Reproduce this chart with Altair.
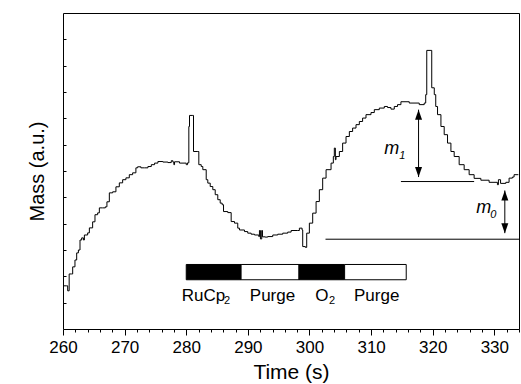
import altair as alt
import pandas as pd

# ---- trace (time in s, mass in arbitrary units) ----
time_s = [260.00, 260.60, 260.76, 261.00, 261.41, 261.57, 261.94, 262.22, 262.50, 262.76,
          263.03, 263.31, 263.47, 264.00, 264.28, 264.81, 265.19, 265.62, 265.90, 266.43,
          266.87, 267.13, 267.52, 268.06, 268.59, 269.14, 269.68, 270.21, 270.76, 271.30,
          271.83, 272.11, 272.64, 273.24, 273.78, 274.33, 274.86, 275.40, 276.21, 277.02,
          277.57, 277.83, 277.99, 278.10, 278.91, 280.00, 280.21, 280.42, 280.53, 281.07,
          281.18, 281.88, 282.04, 282.43, 282.69, 283.24, 283.50, 283.89, 284.31, 284.70,
          285.12, 285.51, 285.83, 286.05, 286.74, 287.29, 287.83, 288.36, 288.64, 289.45,
          289.98, 290.53, 291.07, 291.77, 291.88, 292.04, 292.25, 292.37, 292.80, 293.22,
          294.04, 294.85, 295.66, 296.47, 297.02, 298.09, 298.36, 298.80, 298.90, 299.33,
          299.55, 299.98, 300.52, 301.07, 301.60, 302.14, 302.69, 303.50, 303.87, 304.03,
          304.20, 304.31, 304.85, 305.38, 305.93, 306.47, 307.00, 307.55, 308.09, 308.62,
          309.17, 309.98, 310.52, 311.33, 312.14, 312.67, 313.22, 313.76, 314.29, 314.84,
          316.19, 317.81, 318.62, 318.86, 319.03, 319.71, 319.84, 320.25, 320.49, 320.78,
          321.33, 321.86, 322.40, 322.95, 323.48, 324.29, 325.10, 325.91, 326.72, 327.81,
          329.15, 330.50, 330.66, 330.93, 331.01, 331.86, 332.39, 332.93, 333.20, 333.90]
mass = [1.64, 1.64, 1.45, 2.09, 2.09, 2.36, 2.62, 2.89, 3.00, 3.38,
        3.46, 3.38, 3.57, 3.65, 3.84, 4.07, 4.34, 4.41, 4.60, 4.60,
        4.64, 4.83, 5.17, 5.21, 5.40, 5.55, 5.67, 5.74, 5.86, 5.93,
        6.12, 6.16, 6.12, 6.12, 6.17, 6.24, 6.30, 6.36, 6.34, 6.32,
        6.39, 6.34, 6.24, 6.35, 6.30, 6.24, 6.31, 7.69, 8.11, 8.11,
        6.74, 6.74, 6.24, 6.17, 6.05, 5.67, 5.54, 5.41, 5.29, 5.10,
        4.91, 4.78, 4.72, 4.46, 4.42, 4.08, 4.02, 3.83, 3.76, 3.70,
        3.64, 3.60, 3.57, 3.51, 3.74, 3.42, 3.74, 3.50, 3.49, 3.51,
        3.57, 3.60, 3.64, 3.68, 3.74, 3.74, 3.83, 3.76, 3.13, 3.10,
        3.64, 4.02, 4.40, 4.84, 5.29, 5.73, 6.05, 6.30, 6.55, 6.87,
        6.43, 6.55, 6.74, 7.06, 7.31, 7.50, 7.63, 7.76, 7.88, 8.01,
        8.14, 8.22, 8.33, 8.39, 8.45, 8.41, 8.35, 8.45, 8.52, 8.63,
        8.58, 8.52, 8.58, 8.90, 10.58, 10.58, 9.16, 8.90, 8.45, 8.14,
        7.69, 7.38, 7.06, 6.74, 6.55, 6.24, 6.05, 5.86, 5.72, 5.65,
        5.57, 5.48, 5.67, 5.67, 5.53, 5.57, 5.73, 5.77, 5.86, 5.86]

# ---- process-step bar ----
step_start = [280.0, 288.9, 298.3, 305.7]
step_end = [288.9, 298.3, 305.7, 315.7]
step_kind = ["dose", "purge", "dose", "purge"]
bar_low = [1.87] * 4
bar_high = [2.45] * 4
step_labels = ["RuCp", "Purge", "O", "Purge"]
step_label_t = [282.80, 294.0, 302.01, 310.9]
step_label_m = [1.27] * 4
step_sub = ["2", "2"]
step_sub_t = [286.13, 303.15]
step_sub_m = [1.08, 1.08]

# ---- annotations ----
ref_lines_t0 = [314.84, 302.6]
ref_lines_t1 = [326.72, 334.0]
ref_lines_m = [5.60, 3.41]
arrow_t = [317.70, 331.70]
arrow_low = [5.77, 3.64]
arrow_high = [8.33, 5.26]
ann_text = ["m", "m"]
ann_t = [312.13, 327.05]
ann_m = [6.85, 4.60]
ann_sub = ["1", "0"]
ann_sub_t = [314.56, 329.32]
ann_sub_m = [6.58, 4.33]

XS = alt.Scale(domain=[260, 334], nice=False, zero=False)
YS = alt.Scale(domain=[0, 12], nice=False, zero=False)
FONT = "Liberation Sans"

trace_df = pd.DataFrame({"t": time_s, "m": mass})
steps_df = pd.DataFrame({"t": step_start, "t2": step_end, "kind": step_kind,
                         "m": bar_low, "m2": bar_high})
slab_df = pd.DataFrame({"t": step_label_t, "m": step_label_m, "label": step_labels})
ssub_df = pd.DataFrame({"t": step_sub_t, "m": step_sub_m, "label": step_sub})
lines_df = pd.DataFrame({"t": ref_lines_t0, "t2": ref_lines_t1, "m": ref_lines_m})
arrows_df = pd.DataFrame({"t": arrow_t, "m": arrow_low, "m2": arrow_high})
heads_up = pd.DataFrame({"t": arrow_t, "m": arrow_high})
heads_down = pd.DataFrame({"t": arrow_t, "m": arrow_low})
ann_df = pd.DataFrame({"t": ann_t, "m": ann_m, "label": ann_text})
asub_df = pd.DataFrame({"t": ann_sub_t, "m": ann_sub_m, "label": ann_sub})

x_axis = alt.Axis(
    values=list(range(260, 335, 2)),
    labelExpr="datum.value % 10 === 0 ? datum.label : ''",
    tickSize={"condition": {"test": "datum.value % 10 === 0", "value": 6}, "value": 3},
    domain=False, grid=False, title="Time (s)", labelFontSize=17, titleFontSize=21,
    labelPadding=4, titlePadding=6, labelFont=FONT, titleFont=FONT,
    labelColor="black", titleColor="black", tickColor="black", labelFlush=False,
    titleFontWeight="normal", labelOverlap=False,
)
y_axis = alt.Axis(
    values=list(range(1, 12)), labels=False, domain=False, grid=False,
    tickSize=3, offset=-3, title="Mass (a.u.)", titleFontSize=20, titleFont=FONT,
    titleColor="black", tickColor="black", titlePadding=15, titleFontWeight="normal",
)

X = alt.X("t:Q", scale=XS, axis=x_axis)
Y = alt.Y("m:Q", scale=YS, axis=y_axis)

trace = alt.Chart(trace_df).mark_line(color="black", strokeWidth=1, interpolate="step-after").encode(
    x=X, y=Y,
)

bars = alt.Chart(steps_df).mark_rect(stroke="black", strokeWidth=1).encode(
    x=X, x2="t2:Q", y=Y, y2="m2:Q",
    color=alt.Color("kind:N", scale=alt.Scale(domain=["dose", "purge"], range=["black", "white"]), legend=None),
)

step_text = alt.Chart(slab_df).mark_text(fontSize=17, font=FONT, color="black", baseline="middle", align="center").encode(
    x=X, y=Y, text="label:N",
)
step_subtext = alt.Chart(ssub_df).mark_text(fontSize=11, font=FONT, color="black", baseline="middle", align="left").encode(
    x=X, y=Y, text="label:N",
)

hlines = alt.Chart(lines_df).mark_rule(color="black", strokeWidth=1).encode(
    x=X, x2="t2:Q", y=Y,
)

arrows = alt.Chart(arrows_df).mark_rule(color="black", strokeWidth=1).encode(
    x=X, y=Y, y2="m2:Q",
)

up = alt.Chart(heads_up).mark_point(shape="M0,0L-0.35,1L0.35,1Z", size=400, filled=True,
                                    color="black", opacity=1).encode(x=X, y=Y)
down = alt.Chart(heads_down).mark_point(shape="M0,0L-0.35,-1L0.35,-1Z", size=400, filled=True,
                                        color="black", opacity=1).encode(x=X, y=Y)

ann = alt.Chart(ann_df).mark_text(fontSize=18, font=FONT, fontStyle="italic", color="black",
                                  align="left", baseline="middle").encode(
    x=X, y=Y, text="label:N",
)
ann_subtext = alt.Chart(asub_df).mark_text(fontSize=11, font=FONT, fontStyle="italic", color="black",
                                           align="left", baseline="middle").encode(
    x=X, y=Y, text="label:N",
)

chart = alt.layer(trace, bars, step_text, step_subtext, hlines, arrows, up, down, ann, ann_subtext).properties(
    width=456, height=316,
    autosize=alt.AutoSizeParams(type="none"),
    padding={"left": 63, "top": 13, "right": 2, "bottom": 55},
    background="white",
).configure_view(stroke="black", strokeWidth=1)

chart.save("out.html", embed_options={"renderer": "svg", "actions": False})
